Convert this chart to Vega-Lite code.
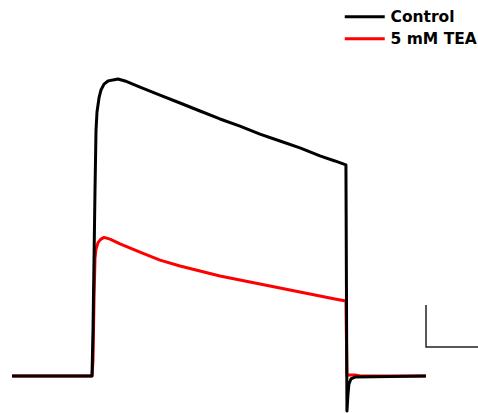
{
  "$schema": "https://vega.github.io/schema/vega-lite/v6.json",
  "width": 478,
  "height": 413,
  "autosize": {"type": "none"},
  "padding": 0,
  "background": "white",
  "config": {"view": {"stroke": null}},
  "datasets": {
    "traces": [
      {"series": "5 mM TEA", "t": -30.77, "I": 0},
      {"series": "5 mM TEA", "t": 0, "I": 0},
      {"series": "5 mM TEA", "t": 0.38, "I": 0.76},
      {"series": "5 mM TEA", "t": 0.77, "I": 3.62},
      {"series": "5 mM TEA", "t": 1.15, "I": 5.6},
      {"series": "5 mM TEA", "t": 1.54, "I": 6.05},
      {"series": "5 mM TEA", "t": 2.31, "I": 6.35},
      {"series": "5 mM TEA", "t": 3.46, "I": 6.52},
      {"series": "5 mM TEA", "t": 4.6, "I": 6.6},
      {"series": "5 mM TEA", "t": 6.92, "I": 6.52},
      {"series": "5 mM TEA", "t": 10.77, "I": 6.29},
      {"series": "5 mM TEA", "t": 18.46, "I": 5.9},
      {"series": "5 mM TEA", "t": 26.15, "I": 5.52},
      {"series": "5 mM TEA", "t": 33.85, "I": 5.24},
      {"series": "5 mM TEA", "t": 41.54, "I": 5.0},
      {"series": "5 mM TEA", "t": 49.23, "I": 4.76},
      {"series": "5 mM TEA", "t": 56.92, "I": 4.57},
      {"series": "5 mM TEA", "t": 64.62, "I": 4.38},
      {"series": "5 mM TEA", "t": 72.31, "I": 4.19},
      {"series": "5 mM TEA", "t": 80.0, "I": 4.0},
      {"series": "5 mM TEA", "t": 87.69, "I": 3.81},
      {"series": "5 mM TEA", "t": 93.46, "I": 3.67},
      {"series": "5 mM TEA", "t": 97.69, "I": 3.57},
      {"series": "5 mM TEA", "t": 98.08, "I": 0},
      {"series": "5 mM TEA", "t": 98.46, "I": 0.05},
      {"series": "5 mM TEA", "t": 101.15, "I": 0.05},
      {"series": "5 mM TEA", "t": 103.08, "I": 0},
      {"series": "5 mM TEA", "t": 128.46, "I": 0},
      {"series": "Control", "t": -30.77, "I": 0},
      {"series": "Control", "t": 0, "I": 0},
      {"series": "Control", "t": 0.38, "I": 2.19},
      {"series": "Control", "t": 0.77, "I": 5.52},
      {"series": "Control", "t": 1.15, "I": 8.86},
      {"series": "Control", "t": 1.54, "I": 11.71},
      {"series": "Control", "t": 1.92, "I": 12.57},
      {"series": "Control", "t": 2.69, "I": 13.24},
      {"series": "Control", "t": 3.46, "I": 13.62},
      {"series": "Control", "t": 4.62, "I": 13.9},
      {"series": "Control", "t": 6.15, "I": 14.05},
      {"series": "Control", "t": 8.08, "I": 14.1},
      {"series": "Control", "t": 10.0, "I": 14.14},
      {"series": "Control", "t": 12.69, "I": 14.05},
      {"series": "Control", "t": 18.46, "I": 13.76},
      {"series": "Control", "t": 26.15, "I": 13.38},
      {"series": "Control", "t": 33.85, "I": 13.0},
      {"series": "Control", "t": 41.54, "I": 12.62},
      {"series": "Control", "t": 49.23, "I": 12.24},
      {"series": "Control", "t": 56.92, "I": 11.9},
      {"series": "Control", "t": 64.62, "I": 11.52},
      {"series": "Control", "t": 72.31, "I": 11.19},
      {"series": "Control", "t": 80.0, "I": 10.86},
      {"series": "Control", "t": 87.69, "I": 10.48},
      {"series": "Control", "t": 93.46, "I": 10.24},
      {"series": "Control", "t": 97.69, "I": 10.05},
      {"series": "Control", "t": 98.08, "I": -1.67},
      {"series": "Control", "t": 98.46, "I": -0.9},
      {"series": "Control", "t": 98.85, "I": -0.38},
      {"series": "Control", "t": 99.62, "I": -0.14},
      {"series": "Control", "t": 101.15, "I": -0.05},
      {"series": "Control", "t": 128.46, "I": 0}
    ],
    "scalebar": [
      {"k": 1, "t": 148.5, "I": 1.38},
      {"k": 2, "t": 128.5, "I": 1.38},
      {"k": 3, "t": 128.5, "I": 3.38}
    ]
  },
  "layer": [
    {
      "data": {"name": "traces"},
      "transform": [{"filter": "datum.series === '5 mM TEA'"}],
      "mark": {"type": "line", "strokeWidth": 3, "strokeJoin": "round"},
      "encoding": {
        "x": {"field": "t", "type": "quantitative", "scale": {"domain": [-35.4, 148.5], "nice": false, "zero": false}, "axis": null},
        "y": {"field": "I", "type": "quantitative", "scale": {"domain": [-1.762, 17.905], "nice": false, "zero": false}, "axis": null},
        "color": {
          "field": "series", "type": "nominal",
          "scale": {"domain": ["Control", "5 mM TEA"], "range": ["#000000", "#ff0000"]},
          "legend": {
            "title": null, "orient": "none", "legendX": 357, "legendY": 9,
            "symbolType": "M-4,0H4", "symbolSize": 100, "symbolStrokeWidth": 3,
            "labelFont": "DejaVu Sans", "labelFontWeight": "bold", "labelFontSize": 15.5,
            "labelColor": "#000000", "rowPadding": 5, "labelOffset": 18, "padding": 0
          }
        }
      }
    },
    {
      "data": {"name": "traces"},
      "transform": [{"filter": "datum.series === 'Control'"}],
      "mark": {"type": "line", "strokeWidth": 3, "strokeJoin": "round"},
      "encoding": {
        "x": {"field": "t", "type": "quantitative"},
        "y": {"field": "I", "type": "quantitative"},
        "color": {"field": "series", "type": "nominal"}
      }
    },
    {
      "data": {"name": "scalebar"},
      "mark": {"type": "line", "strokeWidth": 1.5, "color": "#222222"},
      "encoding": {
        "x": {"field": "t", "type": "quantitative"},
        "y": {"field": "I", "type": "quantitative"},
        "order": {"field": "k", "type": "quantitative"}
      }
    }
  ]
}
